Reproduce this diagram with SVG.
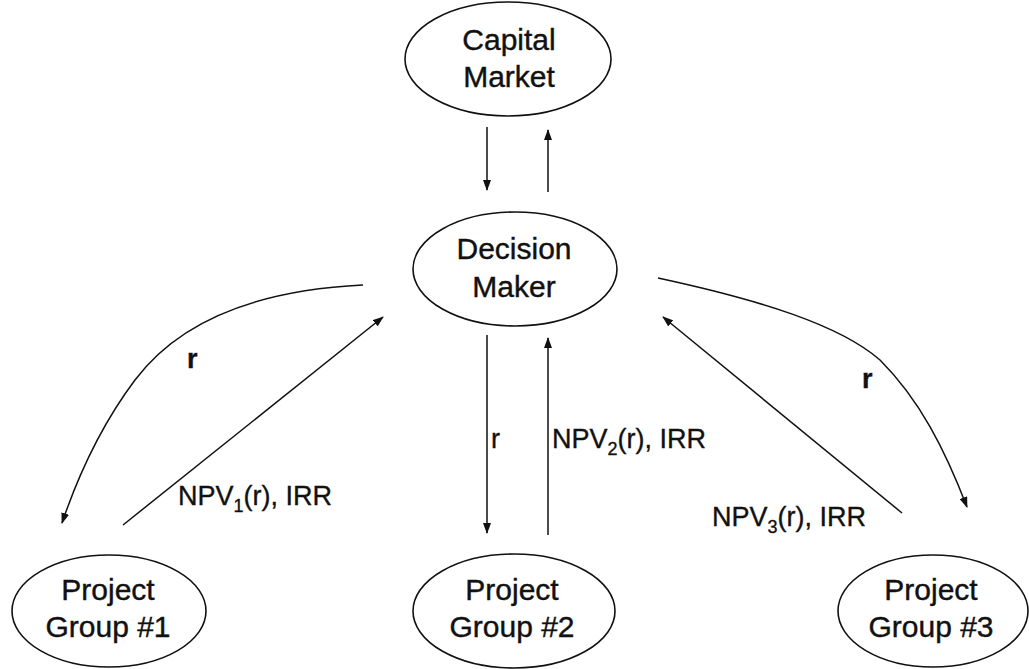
<svg xmlns="http://www.w3.org/2000/svg" width="1029" height="669" viewBox="0 0 1029 669">
<defs>
<marker id="ah" viewBox="0 0 11 8" refX="10" refY="4" markerWidth="11" markerHeight="8" markerUnits="userSpaceOnUse" orient="auto">
<path d="M0,0 L11,4 L0,8 Z" fill="#111"/>
</marker>
<style>
.node ellipse{fill:#fff;stroke:#111;stroke-width:1.6}
.nt{font-family:"Liberation Sans",Arial,sans-serif;font-size:30px;fill:#111;stroke:#111;stroke-width:0.4;text-anchor:middle}
.lbl{font-family:"Liberation Sans",Arial,sans-serif;font-size:27px;fill:#111;stroke:#111;stroke-width:0.35}
.sub{font-size:18px}
.con{fill:none;stroke:#111;stroke-width:1.5;marker-end:url(#ah)}
</style>
</defs>
<rect width="1029" height="669" fill="#fff"/>
<g id="capital-market" class="node">
<ellipse cx="508" cy="59" rx="103" ry="57"/>
<text class="nt" x="509" y="50">Capital</text>
<text class="nt" x="509" y="87">Market</text>
</g>
<g id="decision-maker" class="node">
<ellipse cx="515" cy="269" rx="102" ry="57"/>
<text class="nt" x="514" y="259">Decision</text>
<text class="nt" x="514" y="297">Maker</text>
</g>
<g id="project-group-1" class="node">
<ellipse cx="109" cy="611" rx="97" ry="56"/>
<text class="nt" x="108" y="600">Project</text>
<text class="nt" x="108" y="637">Group #1</text>
</g>
<g id="project-group-2" class="node">
<ellipse cx="514" cy="611" rx="101" ry="57"/>
<text class="nt" x="512" y="600">Project</text>
<text class="nt" x="512" y="637">Group #2</text>
</g>
<g id="project-group-3" class="node">
<ellipse cx="933" cy="611" rx="95" ry="56"/>
<text class="nt" x="931" y="600">Project</text>
<text class="nt" x="931" y="637">Group #3</text>
</g>
<g id="connectors">
<path class="con" d="M487,127 L487,190"/>
<path class="con" d="M548,192 L548,130"/>
<path class="con" d="M363,285 C260,290 180,320 135,380 C105,420 80,470 62,523"/>
<path class="con" d="M123,525 L383,317"/>
<path class="con" d="M487,335 L487,533"/>
<path class="con" d="M548,535 L548,338"/>
<path class="con" d="M658,278 C760,300 840,325 880,360 C920,400 945,450 967,507"/>
<path class="con" d="M902,513 L663,317"/>
</g>
<g id="labels">
<text class="lbl" x="187" y="368" font-weight="bold">r</text>
<text class="lbl" x="178" y="505">NPV<tspan class="sub" dy="7">1</tspan><tspan dy="-7">(r), IRR</tspan></text>
<text class="lbl" x="491" y="448">r</text>
<text class="lbl" x="552" y="448">NPV<tspan class="sub" dy="7">2</tspan><tspan dy="-7">(r), IRR</tspan></text>
<text class="lbl" x="862" y="388" font-weight="bold">r</text>
<text class="lbl" x="712" y="526">NPV<tspan class="sub" dy="7">3</tspan><tspan dy="-7">(r), IRR</tspan></text>
</g>
</svg>
